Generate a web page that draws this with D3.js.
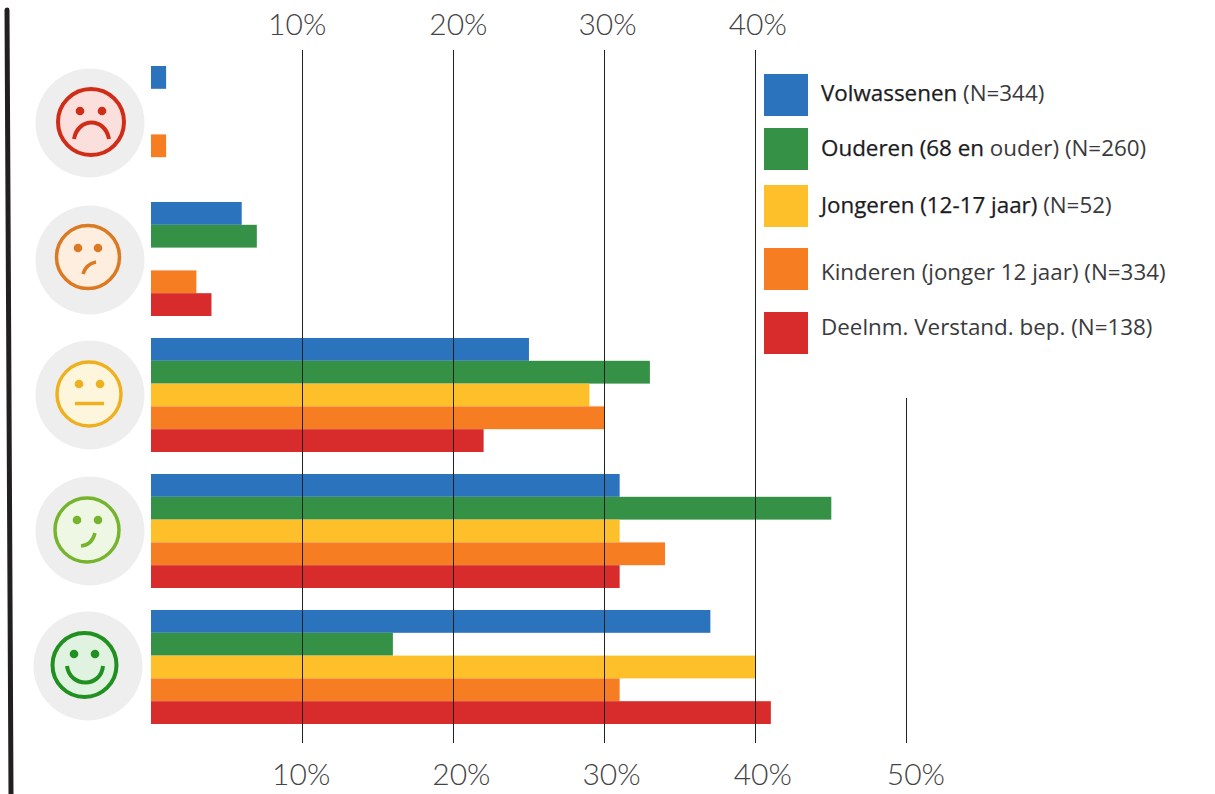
<!DOCTYPE html>
<html><head><meta charset="utf-8">
<script src="https://cdn.jsdelivr.net/npm/d3@7"></script>
<style>html,body{margin:0;background:#fff}svg{display:block}text{font-family:Lato,"Open Sans",sans-serif}</style>
</head><body><svg id="c" width="1215" height="794"></svg>
<script>
const categories = ["zeer ontevreden","ontevreden","neutraal","tevreden","zeer tevreden"];
const series = ["Volwassenen","Ouderen","Jongeren","Kinderen","Deelnemers"];
const volwassenen = [1,6,25,31,37];
const ouderen = [0,7,33,45,16];
const jongeren = [0,0,29,31,40];
const kinderen = [1,3,30,34,31];
const deelnemers = [0,4,22,31,41];
const seriesValues = [volwassenen,ouderen,jongeren,kinderen,deelnemers];
const seriesColors = ["#2b73bc","#349146","#fdbf2a","#f67d21","#d72b2c"];
const gridTicks = [10,20,30,40,50];
const topTicks = [10,20,30,40];
const topLabelOffsets = [-5,5,3,2];
const bottomTicks = [10,20,30,40,50];
const bottomLabelOffsets = [-1,8,7,7,9];
const legendRows = [
  [["Volwassenen","#1c1c1e",0.25],[" (N=344)","#3a3a3c",0]],
  [["Ouderen (68 en","#1c1c1e",0.25],[" ouder) (N=260)","#3a3a3c",0]],
  [["Jongeren (12-17 jaar)","#1c1c1e",0.25],[" (N=52)","#3a3a3c",0]],
  [["Kinderen (jonger 12 jaar) (N=334)","#3a3a3c",0]],
  [["Deelnm. Verstand. bep. (N=138)","#3a3a3c",0]]
];
const legendSwatchTops = [74,128,185,248,312];
const legendTextY = [93,148,205,272,327];
const faces = [
  {cx:90,cy:123,r:54.5,fx:91,fy:122,fr:33,stroke:"#cf2d17",fill:"#fbdfdc",eyes:[[80,111],[102,111]],mouth:"M74,139 C78,117 105,117 109,139",dw:4},
  {cx:90,cy:260,r:54.5,fx:88,fy:257,fr:31.5,stroke:"#dc7a24",fill:"#fdeee0",eyes:[[78,248],[98,248]],mouth:"M83,274 Q86,264 96,262",dw:3.5},
  {cx:90,cy:395,r:54.5,fx:89,fy:394,fr:32,stroke:"#efb01f",fill:"#fef6dc",eyes:[[79,384],[100,384]],mouth:"M75,403.5 L104,403.5",dw:3.5},
  {cx:90,cy:531,r:54.5,fx:87,fy:530,fr:32,stroke:"#76b42d",fill:"#eef7e4",eyes:[[77,520],[98,520]],mouth:"M81,546 Q92,545 95,533",dw:3.5},
  {cx:88,cy:666,r:54.5,fx:84.5,fy:665,fr:32,stroke:"#209020",fill:"#e0f2e0",eyes:[[74,654],[95,654]],mouth:"M67,666 C70,688 101,688 103,666",dw:4}
];

const svg = d3.select("#c");
const x = d3.scaleLinear().domain([0,50]).range([151,906.9]);
const y = d3.scaleBand().domain(categories).range([66,724]).paddingInner(22/136);
const yInner = d3.scaleBand().domain(series).range([0,y.bandwidth()]);

svg.append("path").attr("d",d3.line()([[7,10],[8.5,300],[11,794]]))
  .attr("fill","none").attr("stroke","#231f20").attr("stroke-width",5).attr("stroke-linecap","round");

const faceG = svg.selectAll("g.face").data(faces).join("g").attr("class","face");
faceG.append("circle").attr("cx",d=>d.cx).attr("cy",d=>d.cy).attr("r",d=>d.r).attr("fill","#eeeeee");
faceG.append("circle").attr("cx",d=>d.fx).attr("cy",d=>d.fy).attr("r",d=>d.fr).attr("fill",d=>d.fill).attr("stroke",d=>d.stroke).attr("stroke-width",d=>d.dw);
faceG.selectAll("circle.eye").data(d=>d.eyes.map(e=>({e,c:d.stroke}))).join("circle").attr("class","eye")
  .attr("cx",d=>d.e[0]).attr("cy",d=>d.e[1]).attr("r",4.3).attr("fill",d=>d.c);
faceG.append("path").attr("d",d=>d.mouth).attr("fill","none").attr("stroke",d=>d.stroke).attr("stroke-width",d=>d.dw);

series.forEach((s,i)=>{
  svg.append("g").selectAll("rect").data(categories.map((c,j)=>({c,v:seriesValues[i][j]})).filter(d=>d.v>0)).join("rect")
    .attr("x",x(0)).attr("y",d=>y(d.c)+yInner(s)).attr("width",d=>x(d.v)-x(0)).attr("height",yInner.bandwidth())
    .attr("fill",seriesColors[i]);
});

const grid = svg.append("g");
grid.selectAll("line").data(gridTicks).join("line")
  .attr("x1",d=>x(d)).attr("x2",d=>x(d)).attr("y1",d=>d===50?398:50).attr("y2",743)
  .attr("stroke","#222").attr("stroke-width",1).attr("shape-rendering","crispEdges");

svg.append("g").selectAll("text").data(topTicks).join("text")
  .attr("x",(d,i)=>x(d)+topLabelOffsets[i]).attr("y",35).attr("text-anchor","middle")
  .attr("font-size",30).attr("font-weight",300).attr("fill","#444").text(d=>d+"%");
svg.append("g").selectAll("text").data(bottomTicks).join("text")
  .attr("x",(d,i)=>x(d)+bottomLabelOffsets[i]).attr("y",785).attr("text-anchor","middle")
  .attr("font-size",30).attr("font-weight",300).attr("fill","#444").text(d=>d+"%");

const lg = svg.append("g");
lg.selectAll("rect").data(seriesColors).join("rect").attr("x",764).attr("y",(d,i)=>legendSwatchTops[i]).attr("width",44).attr("height",42).attr("fill",d=>d);
const lt = lg.selectAll("text").data(legendRows).join("text").attr("x",821).attr("y",(d,i)=>legendTextY[i]+8).attr("font-size",22.4).style("font-family","'Open Sans',Lato,sans-serif");
lt.selectAll("tspan").data(d=>d).join("tspan").attr("fill",d=>d[1]).attr("stroke",d=>d[2]?d[1]:"none").attr("stroke-width",d=>d[2]).text(d=>d[0]).style("white-space","pre");
</script></body></html>
